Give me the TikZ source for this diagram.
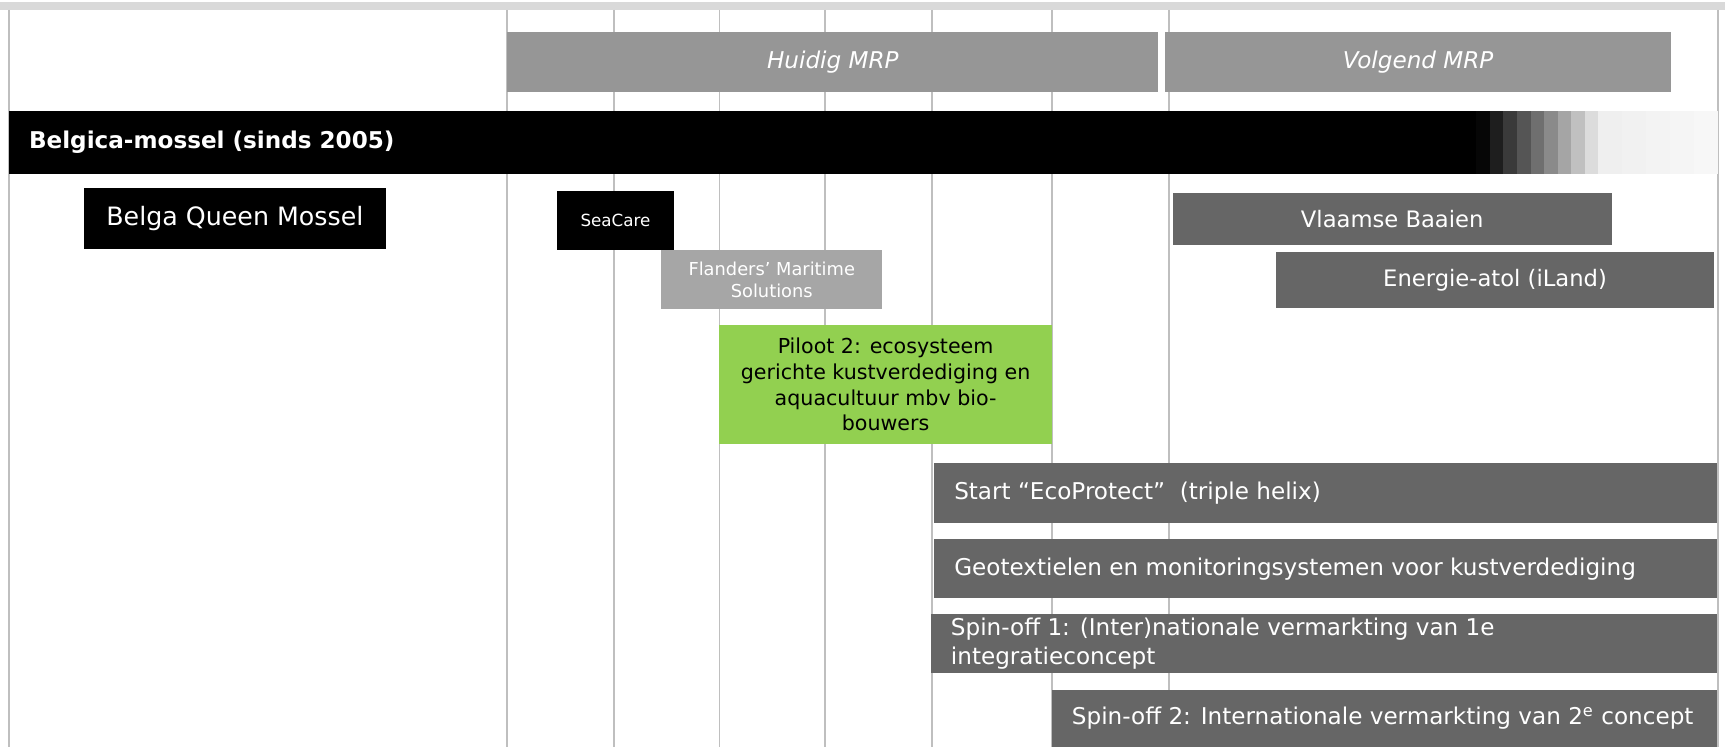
\documentclass[tikz,border=0pt]{standalone}
\usepackage{fontspec}
\setmainfont{DejaVu Sans}
\definecolor{vline}{HTML}{BFBFBF}
\definecolor{strip}{HTML}{D9D9D9}
\definecolor{mrp}{HTML}{969696}
\definecolor{lgray}{HTML}{A6A6A6}
\definecolor{dgray}{HTML}{666666}
\definecolor{pgreen}{HTML}{92D050}
\begin{document}
\begin{tikzpicture}[x=0.5pt,y=-0.5pt,
  box/.style={inner sep=0pt, outer sep=0pt, anchor=north west, text=white, align=center},
  lbl/.style={anchor=west, xshift=9pt, inner sep=0pt, text=white, align=left},
  body/.style={font=\fontsize{10.5}{13}\selectfont},
  grid/.style={draw=vline, line width=0.9pt}]
\useasboundingbox (0,0) rectangle (1568,679);
\fill[strip] (0,2) rectangle (1568,9);
\foreach \x in {8,461,558,654,750,847,956,1063,1562}
  \draw[grid] (\x,9) -- (\x,679);
% period headers
\node[box, fill=mrp, minimum width=296pt, minimum height=27.5pt, font=\fontsize{10.5}{12}\itshape] (huidig) at (461,29) {Huidig MRP};
\node[box, fill=mrp, minimum width=230pt, minimum height=27.5pt, font=\fontsize{10.5}{12}\itshape] (volgend) at (1059,29) {Volgend MRP};
% Belgica bar
\node[box, fill=black, minimum width=667pt, minimum height=28.5pt,
  label={[lbl, font=\fontsize{10.5}{12}\bfseries]west:Belgica-mossel (sinds 2005)}] (belgica) at (8,101) {};
\foreach \v [count=\i from 0] in {6,30,58,85,111,138,165,192,220}
  \fill[fill={rgb,255:red,\v;green,\v;blue,\v}] ({1342+12.3*\i},101) rectangle ({1354.5+12.3*\i},158);
\foreach \v [count=\i from 0] in {239,241,243,245,247}
  \fill[fill={rgb,255:red,\v;green,\v;blue,\v}] ({1452.7+21.7*\i},101) rectangle ({1474.6+21.7*\i},158);
% boxes
\node[box, fill=black, minimum width=137.5pt, minimum height=27.5pt, font=\fontsize{11.5}{13}\selectfont] (belga) at (76,171) {Belga Queen Mossel};
\node[box, fill=black, minimum width=53.5pt, minimum height=26.5pt, font=\fontsize{7.6}{9}\selectfont] (seacare) at (506,174) {SeaCare};
\node[box, fill=lgray, minimum width=100.5pt, minimum height=27pt, font=\fontsize{8.1}{10}\selectfont] (flanders) at (601,227) {Flanders’ Maritime\\Solutions};
\node[box, fill=pgreen, text=black, minimum width=151pt, minimum height=54.5pt, font=\fontsize{9.36}{11.7}\selectfont] (piloot) at (654,295) {Piloot 2: ecosysteem\\gerichte kustverdediging en\\aquacultuur mbv bio-\\bouwers};
\node[box, fill=dgray, minimum width=199.5pt, minimum height=24pt, font=\fontsize{10.3}{12}\selectfont] (vlaamse) at (1066,175) {Vlaamse Baaien};
\node[box, fill=dgray, minimum width=199pt, minimum height=25.5pt, font=\fontsize{10.3}{12}\selectfont] (energie) at (1160,229) {Energie-atol (iLand)};
\node[box, fill=dgray, minimum width=356pt, minimum height=27pt,
  label={[lbl, body]west:Start “EcoProtect”~ (triple helix)}] (start) at (849,421) {};
\node[box, fill=dgray, minimum width=356pt, minimum height=27pt,
  label={[lbl, body]west:Geotextielen en monitoringsystemen voor kustverdediging}] (geo) at (849,490) {};
\node[box, fill=dgray, minimum width=357.5pt, minimum height=27pt,
  label={[lbl, body]west:{Spin-off 1: (Inter)nationale vermarkting van 1e\\integratieconcept}}] (spin1) at (846,558) {};
\node[box, fill=dgray, minimum width=302.5pt, minimum height=26pt,
  label={[lbl, body]west:{Spin-off 2: Internationale vermarkting van 2\textsuperscript{e} concept}}] (spin2) at (956,627) {};
\end{tikzpicture}
\end{document}
